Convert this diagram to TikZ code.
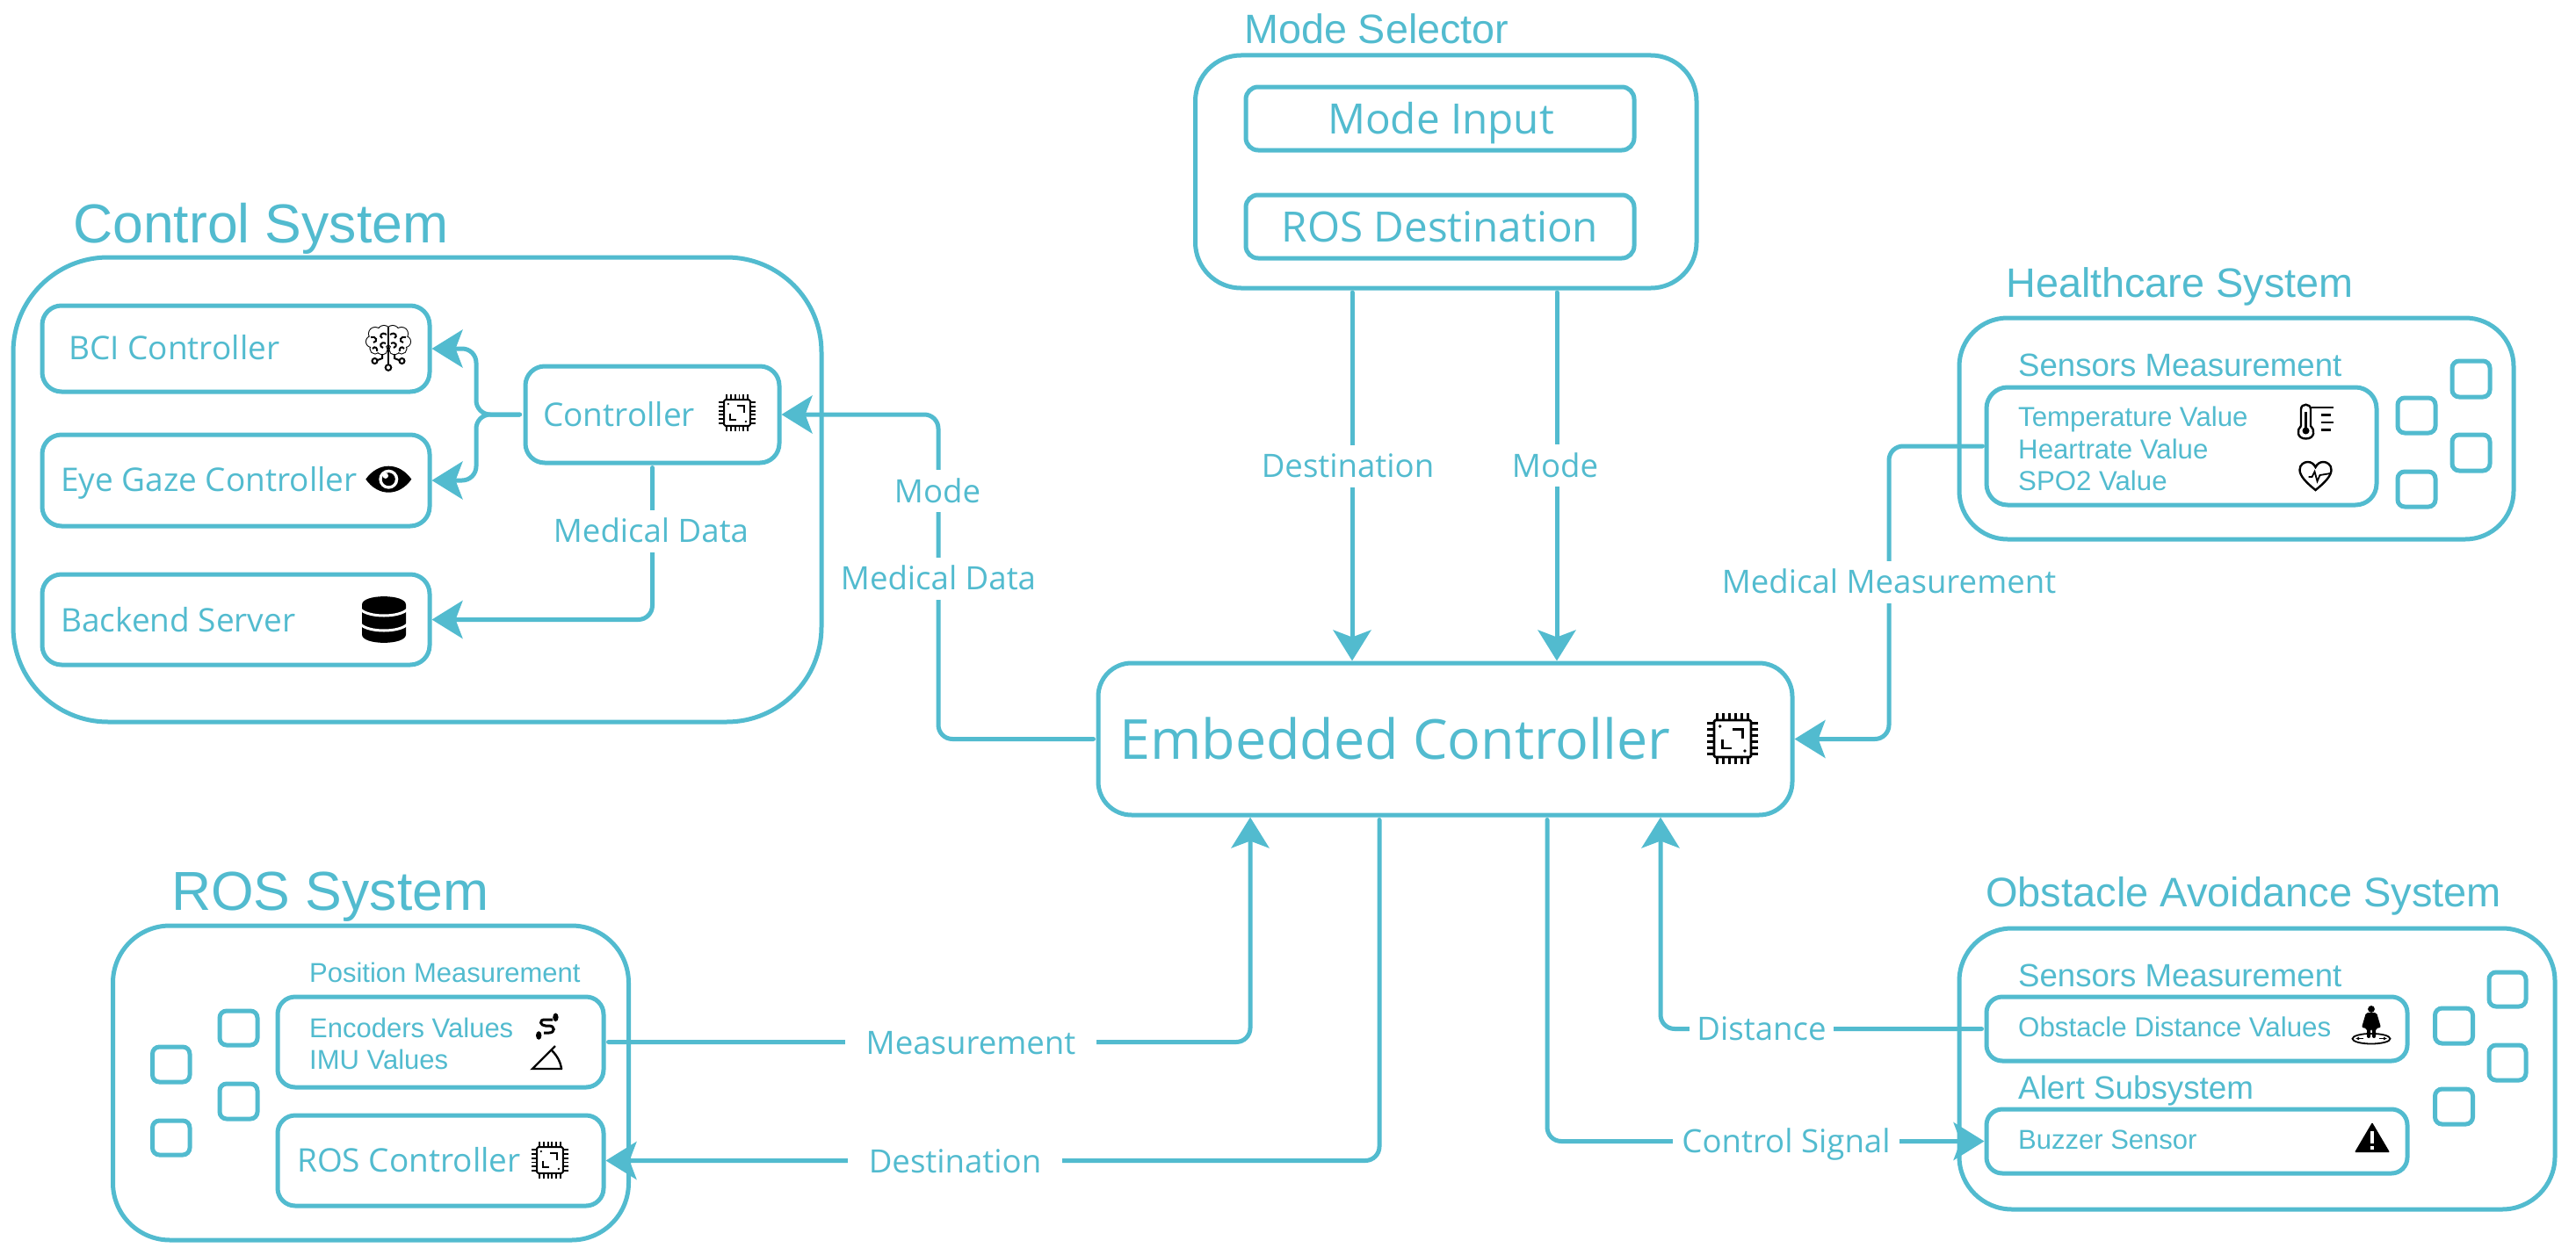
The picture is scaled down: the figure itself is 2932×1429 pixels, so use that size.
\documentclass[tikz,border=0pt]{standalone}
\usepackage{fontspec}
\setmainfont{Open Sans}
\newfontfamily\lib{Liberation Sans}
\usetikzlibrary{arrows.meta}
\definecolor{cy}{HTML}{52BBCF}
\tikzset{
  os/.style={font=\fontsize{#1}{#1}\selectfont},
  ls/.style={font=\lib\fontsize{#1}{#1}\selectfont},
  txt/.style={anchor=base west,inner sep=0pt,text=cy},
  ctxt/.style={anchor=base,inner sep=0pt,text=cy},
  conn/.style={draw=cy,line width=5pt,line cap=round,rounded corners=16pt},
  arr/.style={-{Stealth[length=35pt,width=43pt,inset=8pt]}},
  elab/.style={fill=white,text=cy,os=36.6,inner ysep=11pt,inner xsep=#1,text height=26pt,text depth=0pt},
  elab/.default=24pt,
  icon/.style={black,line width=2.4pt},
}
\newcommand\rbox[6]{\node[draw=cy,line width=5pt,rounded corners=#6pt,inner sep=0pt,
  minimum width={(#4-#2)*1pt},minimum height={(#5-#3)*1pt}] (#1) at ({(#2+#4)/2},{(#3+#5)/2}) {};}
\newcommand\chipicon[3]{\begin{scope}[shift={(#1,#2)},scale=#3,black,line width=#3*2.8pt]
  \draw[rounded corners=1.5pt] (-21,-21) rectangle (21,21);
  \foreach \p in {-17.5,-10.5,-3.5,3.5,10.5,17.5}{
    \draw (\p,-21) -- (\p,-29); \draw (\p,21) -- (\p,29);
    \draw (-21,\p) -- (-29,\p); \draw (21,\p) -- (29,\p);}
  \draw (0,-10.7) -- (11.7,-10.7) -- (11.7,0);
  \draw (-11.7,1) -- (-11.7,11) -- (-1,11);
  \fill (-14.3,-14) circle (1.8); \fill (14,14) circle (1.8);
\end{scope}}
\begin{document}
\begin{tikzpicture}[x=1pt,y=-1pt]
\useasboundingbox (0,0) rectangle (2932,1429);
\fill[white] (0,0) rectangle (2932,1429);

% ---------- Mode selector
\node[txt,ls=46.7] (tMode) at (1416,50) {Mode Selector};
\rbox{sel}{1360.5}{63}{1931}{328}{52}
\rbox{modeIn}{1418}{99}{1860}{171}{14}
\rbox{rosDest}{1418}{222}{1860}{294}{14}
\node[ctxt,os=47.6] (tModeIn) at (1640,152) {Mode Input};
\node[ctxt,os=47.6] (tRosDest) at (1639,275) {ROS Destination};

% ---------- Control system
\node[txt,ls=62.5] (tCtl) at (83,276.5) {Control System};
\rbox{ctlsys}{15}{293}{935}{822}{108}
\rbox{bci}{48}{348}{489}{446}{22}
\rbox{eye}{48}{495}{489}{599}{22}
\rbox{back}{48}{654}{489}{757}{22}
\rbox{ctrl}{598}{417}{887}{527}{22}
\node[txt,os=37] (tBci) at (78,409) {BCI Controller};
\node[txt,os=37] (tEye) at (69,559) {Eye Gaze Controller};
\node[txt,os=37] (tBack) at (69,719) {Backend Server};
\node[txt,os=37] (tCtrl) at (618,485) {Controller};

% ---------- Embedded controller
\rbox{emb}{1250}{755}{2040}{928}{38}
\node[txt,os=62.8] (tEmb) at (1274,864) {Embedded Controller};

% ---------- Healthcare system
\node[txt,ls=46.8] (tHc) at (2283,338) {Healthcare System};
\rbox{hc}{2230}{362}{2861}{614}{55}
\rbox{hcI}{2261}{441}{2705}{575}{24}
\node[txt,ls=36.6] (tHcS) at (2297,428) {Sensors Measurement};
\node[txt,ls=31.2] (tTemp) at (2297,485) {Temperature Value};
\node[txt,ls=31.2] (tHeart) at (2297,522) {Heartrate Value};
\node[txt,ls=31.2] (tSpo) at (2297,558) {SPO2 Value};
\rbox{hs1}{2729}{453}{2772}{493}{8}
\rbox{hs2}{2791}{411}{2834}{452}{8}
\rbox{hs3}{2791}{495}{2834}{536}{8}
\rbox{hs4}{2729}{537}{2772}{577}{8}

% ---------- ROS system
\node[txt,ls=62.5] (tRos) at (195,1036) {ROS System};
\rbox{ros}{128.5}{1054}{715.5}{1412}{65}
\rbox{posI}{316}{1135}{687}{1238}{20}
\rbox{rosC}{316}{1270}{687}{1373}{20}
\node[txt,ls=31] (tPos) at (352,1118) {Position Measurement};
\node[txt,ls=31] (tEnc) at (352,1181) {Encoders Values};
\node[txt,ls=31] (tImu) at (352,1217) {IMU Values};
\node[txt,os=37] (tRosC) at (338,1334) {ROS Controller};
\rbox{rs1}{173.5}{1192}{216}{1232}{8}
\rbox{rs2}{250}{1151}{293}{1190}{8}
\rbox{rs3}{250}{1234}{293}{1274}{8}
\rbox{rs4}{173.5}{1276}{216}{1315}{8}

% ---------- Obstacle system
\node[txt,ls=47] (tObs) at (2260,1032) {Obstacle Avoidance System};
\rbox{obs}{2230}{1057}{2908}{1377}{60}
\rbox{obsI}{2261}{1135}{2740}{1208}{18}
\rbox{alert}{2261}{1263}{2740}{1336}{18}
\node[txt,ls=36.6] (tObsS) at (2297,1123) {Sensors Measurement};
\node[txt,ls=31.3] (tObsD) at (2297,1180) {Obstacle Distance Values};
\node[txt,ls=36.8] (tAlert) at (2297,1251) {Alert Subsystem};
\node[txt,ls=31] (tBuzz) at (2297,1308) {Buzzer Sensor};
\rbox{os1}{2771.5}{1148}{2814.5}{1188}{8}
\rbox{os2}{2833}{1107}{2875}{1146}{8}
\rbox{os3}{2833}{1190}{2875}{1230}{8}
\rbox{os4}{2771.5}{1240}{2814.5}{1280}{8}

% ---------- Connectors
\draw[conn,arr,shorten <=4pt] (ctrl.west) -- (542,0 |- ctrl.west) -- (542,0 |- bci.east) -- (bci.east);
\draw[conn,arr,shorten <=4pt] (ctrl.west) -- (542,0 |- ctrl.west) -- (542,0 |- eye.east) -- (eye.east);
\draw[conn,arr,shorten <=3pt] (ctrl.south) -- (ctrl.south |- back.east) -- (back.east);
\draw[conn,arr,shorten <=3pt] (emb.west) -- (1068,0 |- emb.west) -- (1068,0 |- ctrl.east) -- (ctrl.east);
\draw[conn,arr,shorten <=2.5pt] (1539,0 |- sel.south) -- (1539,0 |- emb.north);
\draw[conn,arr,shorten <=2.5pt] (1772,0 |- sel.south) -- (1772,0 |- emb.north);
\draw[conn,arr,shorten <=2pt] (hcI.west) -- (2150,0 |- hcI.west) -- (2150,0 |- emb.east) -- (emb.east);
\draw[conn,arr,shorten <=3pt] (posI.east) -- (1423,0 |- posI.east) -- (1423,0 |- emb.south);
\draw[conn,arr,shorten <=3pt] (1570,0 |- emb.south) -- (1570,0 |- rosC.east) -- (rosC.east);
\draw[conn,arr,shorten <=3pt] (1761,0 |- emb.south) -- (1761,0 |- alert.west) -- (alert.west);
\draw[conn,arr,shorten <=3pt] (obsI.west) -- (1890,0 |- obsI.west) -- (1890,0 |- emb.south);

\node[elab] (lMd1) at (741,604.5) {Medical Data};
\node[elab] (lMode1) at (1067,559) {Mode};
\node[elab=6pt] (lMd2) at (1068,658.5) {Medical Data};
\node[elab] (lDest1) at (1534,530.5) {Destination};
\node[elab] (lMode2) at (1770,530) {Mode};
\node[elab] (lMm) at (2150,662.5) {Medical Measurement};
\node[elab] (lMeas) at (1105,1187) {Measurement};
\node[elab] (lDest2) at (1087,1322) {Destination};
\node[elab=8pt] (lDist) at (2005,1171) {Distance};
\node[elab=10pt] (lCs) at (2033,1299) {Control Signal};

% ---------- Icons
\chipicon{1972}{841}{1}
\chipicon{839}{470}{.71}
\chipicon{626}{1321}{.71}

% brain
\begin{scope}[shift={(442,395)},icon,line width=2pt]
  \foreach \s in {-1,1}{
    \foreach \a/\b/\r in {5/-17/7,15/-15/7,19/-6/6,15/2/5.5,7/3/5.5,8/-8/9}{\draw (\s*\a,\b) circle (\r);}
  }
  \foreach \s in {-1,1}{
    \foreach \a/\b/\r in {5/-17/7,15/-15/7,19/-6/6,15/2/5.5,7/3/5.5,8/-8/9}{\fill[white] (\s*\a,\b) circle (\r);}
    \draw (\s*2,-14) .. controls (\s*8,-18) and (\s*11,-12) .. (\s*7,-10);
    \draw (\s*20,-11) .. controls (\s*14,-13) and (\s*11,-6) .. (\s*17,-5);
    \draw (\s*3,-4) .. controls (\s*9,-7) and (\s*11,0) .. (\s*6,1);
    \draw (\s*18,2) .. controls (\s*15,-2) and (\s*12,2) .. (\s*13,5);
    \draw (\s*7,8) -- (\s*7,13) -- (\s*12,15);
    \draw (\s*15.5,16) circle (3);
  }
  \draw (0,-23) -- (0,20);
  \draw (0,23.5) circle (3.3);
\end{scope}

% eye
\begin{scope}[shift={(442.3,545.7)}]
  \fill[black] (-26,0) .. controls (-12,-20) and (12,-20) .. (26,0) .. controls (12,20) and (-12,20) .. (-26,0) -- cycle;
  \fill[white] (0,0) circle (11);
  \fill[black] (0,0) circle (7.5);
  \fill[white] (-3.5,-4) circle (3.2);
\end{scope}

% database
\begin{scope}[shift={(437,705.5)}]
  \fill[black] (-25,-17) -- (-25,17) .. controls (-25,29.5) and (25,29.5) .. (25,17) -- (25,-17)
     .. controls (25,-29.5) and (-25,-29.5) .. (-25,-17) -- cycle;
  \draw[white,line width=3pt] (-27,-12) .. controls (-18,-2) and (18,-2) .. (27,-12);
  \draw[white,line width=3pt] (-27,5) .. controls (-18,15) and (18,15) .. (27,5);
\end{scope}

% thermometer
\begin{scope}[shift={(2635,480)},icon]
  \draw (-16,5) -- (-16,-14) .. controls (-16,-21) and (-5,-21) .. (-5,-14) -- (-5,5)
     .. controls (0,9) and (0,19.5) .. (-10.5,19.5) .. controls (-21,19.5) and (-21,9) .. (-16,5);
  \fill (-10.5,10.5) circle (4);
  \draw[line width=3pt] (-10.5,-11) -- (-10.5,10);
  \draw (-4,-16) -- (21,-16);
  \draw (7,-7.7) -- (18,-7.7);
  \draw (7,1) -- (21,1);
  \draw (7,9.3) -- (18,9.3);
\end{scope}

% heart
\begin{scope}[shift={(2635.5,542)},icon]
  \draw (0,16) .. controls (-10,8) and (-18,0) .. (-18,-7) .. controls (-18,-13) and (-13,-16) .. (-9,-16)
     .. controls (-5,-16) and (-2,-14) .. (0,-10) .. controls (2,-14) and (5,-16) .. (9,-16)
     .. controls (13,-16) and (18,-13) .. (18,-7) .. controls (18,0) and (10,8) .. (0,16) -- cycle;
  \draw[line width=1.8pt] (-8,1) -- (-4,1) -- (-1,-5) -- (2,6) -- (5,-1) -- (17,-3);
\end{scope}

% encoder S
\begin{scope}[shift={(623,1169)},icon,line width=3pt]
  \fill (9.4,-10.7) ellipse (3.2 and 4.8);
  \fill (-9.8,10) ellipse (3.2 and 4.8);
  \draw (6,-8) -- (-3,-8) .. controls (-10,-8) and (-8,-1) .. (-2,-1) -- (2,-1) .. controls (9,-1) and (9,7) .. (2,7) -- (-4,7);
\end{scope}

% angle
\begin{scope}[icon]
  \draw (640,1217) -- (606,1217) -- (632,1191);
  \draw (628,1196) .. controls (634,1202) and (638,1209) .. (639,1217);
\end{scope}

% person
\begin{scope}[shift={(2699,1167)},icon]
  \fill (0,-18) circle (3.9);
  \fill[rounded corners=2pt] (-6,-14) -- (6,-14) -- (11,3) -- (5,4) -- (5,15) -- (1,15) -- (1,5) -- (-1,5) -- (-1,15) -- (-5,15) -- (-5,4) -- (-11,3) -- cycle;
  \draw[line width=1.8pt] (0,15.7) ellipse (21.5 and 5.8);
  \draw[line width=1.5pt,-{Latex[length=4pt,width=4pt]}] (-9,15.5) -- (-18,15.5);
  \draw[line width=1.5pt,-{Latex[length=4pt,width=4pt]}] (9,15.5) -- (18,15.5);
\end{scope}

% warning
\begin{scope}[shift={(2700,1295)}]
  \fill[black,rounded corners=1pt] (0,-17) -- (20,17) -- (-20,17) -- cycle;
  \fill[white] (-2.2,-7) rectangle (2.2,7);
  \fill[white] (-2.4,9.5) rectangle (2.4,13.5);
\end{scope}
\end{tikzpicture}
\end{document}
